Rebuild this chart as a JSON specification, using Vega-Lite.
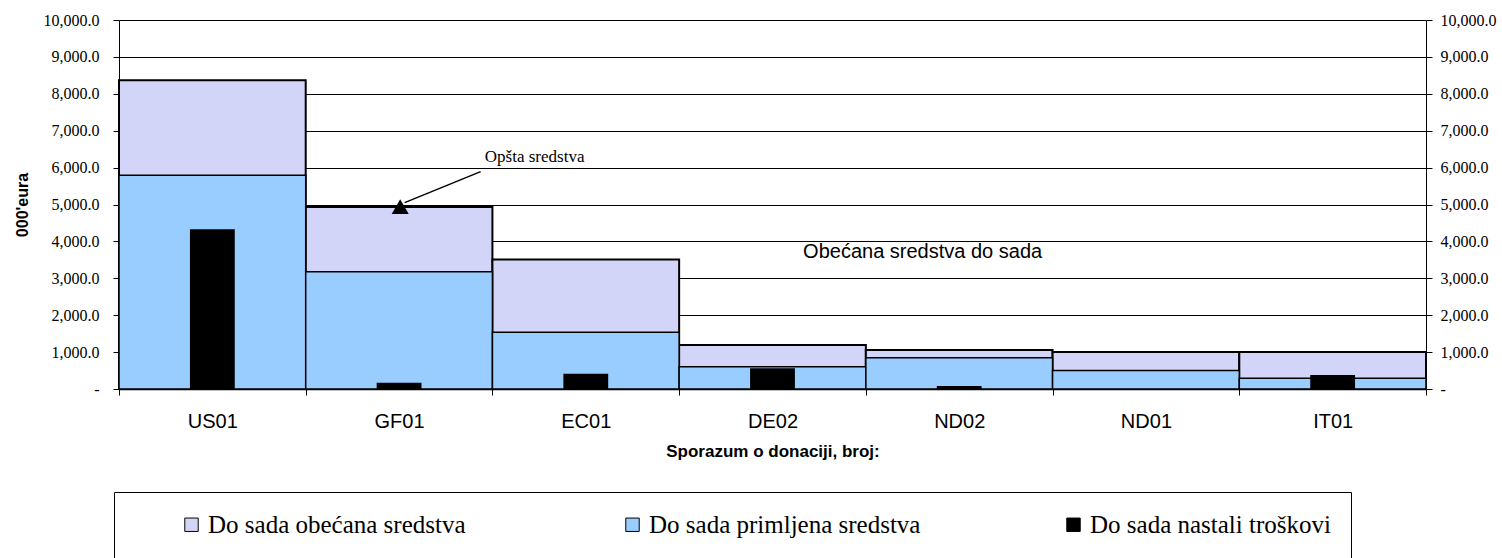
{
  "$schema": "https://vega.github.io/schema/vega-lite/v6.json",
  "width": 1307,
  "height": 369,
  "autosize": "none",
  "padding": {"left": 119, "top": 20, "right": 76, "bottom": 169},
  "background": "white",
  "config": {
    "view": {"stroke": null},
    "axis": {"labelColor": "#000", "tickColor": "#000", "domainColor": "#000", "titleColor": "#000"}
  },
  "datasets": {
    "donors": [
      {"code": "US01", "pledged": 8370, "received": 5790, "cost": 4330},
      {"code": "GF01", "pledged": 4930, "received": 3180, "cost": 170},
      {"code": "EC01", "pledged": 3510, "received": 1540, "cost": 410},
      {"code": "DE02", "pledged": 1190, "received": 600, "cost": 560},
      {"code": "ND02", "pledged": 1060, "received": 850, "cost": 80},
      {"code": "ND01", "pledged": 1000, "received": 500, "cost": 0},
      {"code": "IT01", "pledged": 1000, "received": 290, "cost": 380}
    ],
    "notes": [
      {"label": "Opšta sredstva", "ax": 2.226, "ay": 6300, "kind": "serif"},
      {"label": "Obećana sredstva do sada", "ax": 4.304, "ay": 3720, "kind": "sans"}
    ],
    "arrow": [
      {"ax": 1.937, "ay": 5890, "ax2": 1.53, "ay2": 5050, "tx": 1.506, "ty": 4940}
    ]
  },
  "layer": [
    {
      "data": {"name": "donors"},
      "mark": {"type": "bar", "stroke": "#000", "strokeWidth": 2},
      "encoding": {
        "x": {
          "field": "code", "type": "nominal", "sort": null,
          "scale": {"paddingInner": 0, "paddingOuter": 0},
          "axis": {
            "labelAngle": 0, "labelFont": "Liberation Sans", "labelFontSize": 20,
            "labelPadding": 16, "tickSize": 6, "tickBand": "extent", "domainWidth": 1.5,
            "title": "Sporazum o donaciji, broj:", "titleFont": "Liberation Sans",
            "titleFontSize": 17, "titleFontWeight": "bold", "titlePadding": 12
          }
        },
        "y": {
          "field": "pledged", "type": "quantitative",
          "scale": {"domain": [0, 10000], "nice": false},
          "axis": {
            "orient": "left", "values": [0,1000,2000,3000,4000,5000,6000,7000,8000,9000,10000],
            "labelExpr": "datum.value == 0 ? '-' : format(datum.value, ',.1f')",
            "labelFont": "Liberation Serif", "labelFontSize": 16, "labelPadding": 14,
            "tickSize": 6, "grid": true, "gridColor": "#000", "gridWidth": 1,
            "title": "000'eura", "titleFont": "Liberation Sans", "titleFontSize": 16,
            "titleFontWeight": "bold", "titleAngle": 270, "titleX": -97, "titleY": 184.5,
            "titleBaseline": "middle", "titleAlign": "center"
          }
        },
        "color": {
          "datum": "Do sada obećana sredstva",
          "scale": {
            "domain": ["Do sada obećana sredstva", "Do sada primljena sredstva", "Do sada nastali troškovi"],
            "range": ["#d3d5f8", "#99ccff", "#000000"]
          },
          "legend": {
            "title": " ", "titleOrient": "left", "titlePadding": 45, "titleFontSize": 10,
            "orient": "none", "legendX": -5, "legendY": 472,
            "direction": "horizontal", "columns": 3, "gridAlign": "all", "columnPadding": 140,
            "symbolType": "square", "symbolSize": 180, "symbolStrokeColor": "#000", "symbolStrokeWidth": 1,
            "labelFont": "Liberation Serif", "labelFontSize": 25, "labelColor": "#000",
            "labelLimit": 500, "labelOffset": 4,
            "strokeColor": "#000", "padding": 20
          }
        }
      }
    },
    {
      "data": {"name": "donors"},
      "mark": {"type": "bar", "stroke": "#000", "strokeWidth": 1.5},
      "encoding": {
        "x": {"field": "code", "type": "nominal", "sort": null, "scale": {"paddingInner": 0, "paddingOuter": 0}, "axis": null},
        "y": {
          "field": "received", "type": "quantitative",
          "scale": {"domain": [0, 10000], "nice": false},
          "axis": {
            "orient": "right", "values": [0,1000,2000,3000,4000,5000,6000,7000,8000,9000,10000],
            "labelExpr": "datum.value == 0 ? '-' : format(datum.value, ',.1f')",
            "labelFont": "Liberation Serif", "labelFontSize": 16, "labelPadding": 8,
            "tickSize": 6, "grid": false, "title": null
          }
        },
        "color": {"datum": "Do sada primljena sredstva"}
      }
    },
    {
      "data": {"name": "donors"},
      "mark": {"type": "bar", "width": {"band": 0.24}},
      "encoding": {
        "x": {"field": "code", "type": "nominal", "sort": null, "scale": {"paddingInner": 0, "paddingOuter": 0}, "axis": null},
        "y": {"field": "cost", "type": "quantitative", "scale": {"domain": [0, 10000], "nice": false}, "axis": null},
        "color": {"datum": "Do sada nastali troškovi"}
      }
    },
    {
      "data": {"name": "arrow"},
      "mark": {"type": "rule", "color": "#000", "strokeWidth": 1.5},
      "encoding": {
        "x": {"field": "ax", "type": "quantitative", "scale": {"domain": [0, 7], "nice": false, "zero": false}, "axis": null},
        "x2": {"field": "ax2"},
        "y": {"field": "ay", "type": "quantitative", "scale": {"domain": [0, 10000], "nice": false}, "axis": null},
        "y2": {"field": "ay2"}
      }
    },
    {
      "data": {"name": "arrow"},
      "mark": {"type": "point", "shape": "triangle-up", "filled": true, "color": "#000", "size": 290, "opacity": 1},
      "encoding": {
        "x": {"field": "tx", "type": "quantitative", "scale": {"domain": [0, 7], "nice": false, "zero": false}, "axis": null},
        "y": {"field": "ty", "type": "quantitative", "scale": {"domain": [0, 10000], "nice": false}, "axis": null}
      }
    },
    {
      "data": {"name": "notes"},
      "transform": [{"filter": "datum.kind == 'serif'"}],
      "mark": {"type": "text", "font": "Liberation Serif", "fontSize": 17, "color": "#000", "baseline": "middle", "align": "center"},
      "encoding": {
        "x": {"field": "ax", "type": "quantitative", "scale": {"domain": [0, 7], "nice": false, "zero": false}, "axis": null},
        "y": {"field": "ay", "type": "quantitative", "scale": {"domain": [0, 10000], "nice": false}, "axis": null},
        "text": {"field": "label"}
      }
    },
    {
      "data": {"name": "notes"},
      "transform": [{"filter": "datum.kind == 'sans'"}],
      "mark": {"type": "text", "font": "Liberation Sans", "fontSize": 20, "color": "#000", "baseline": "middle", "align": "center"},
      "encoding": {
        "x": {"field": "ax", "type": "quantitative", "scale": {"domain": [0, 7], "nice": false, "zero": false}, "axis": null},
        "y": {"field": "ay", "type": "quantitative", "scale": {"domain": [0, 10000], "nice": false}, "axis": null},
        "text": {"field": "label"}
      }
    }
  ],
  "resolve": {"scale": {"x": "independent"}, "axis": {"x": "independent", "y": "independent"}}
}
